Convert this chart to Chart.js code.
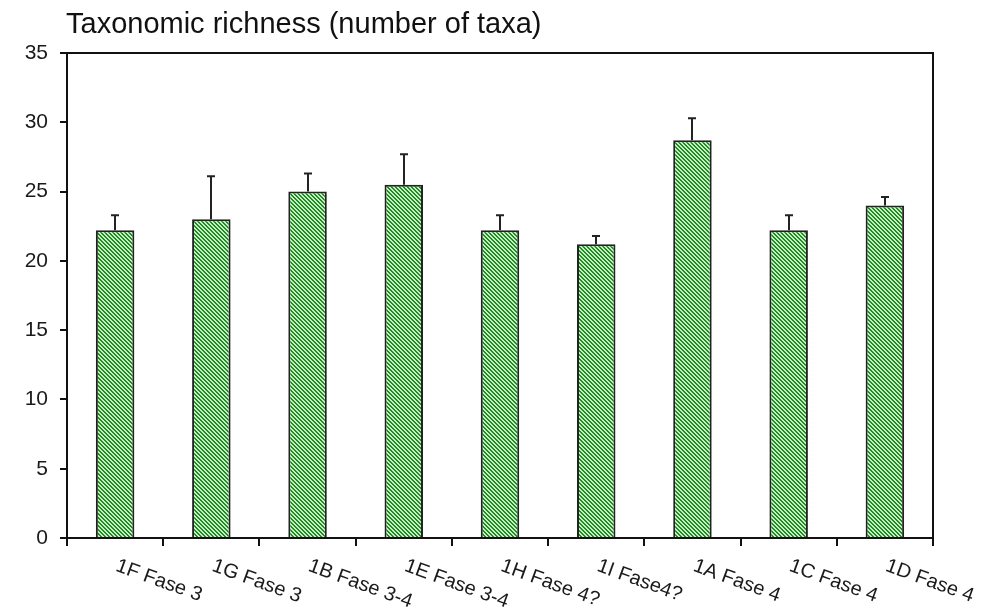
<!DOCTYPE html>
<html>
<head>
<meta charset="utf-8">
<script src="https://cdn.jsdelivr.net/npm/chart.js@4/dist/chart.umd.min.js"></script>
<style>
  html, body { margin: 0; padding: 0; background: #fff; }
  #wrap { width: 993px; height: 607px; position: relative; }
</style>
</head>
<body>
<div id="wrap"><canvas id="c" width="993" height="607"></canvas></div>
<script>
// Sampling sites and their phase
const categories = ['1F Fase 3', '1G Fase 3', '1B Fase 3-4', '1E Fase 3-4', '1H Fase 4?', '1I Fase4?', '1A Fase 4', '1C Fase 4', '1D Fase 4'];
// Mean number of taxa per site
const richness = [22.2, 23.0, 25.0, 25.5, 22.2, 21.2, 28.7, 22.2, 24.0];
// Upper error (standard deviation) per site
const richnessErr = [1.1, 3.1, 1.3, 2.2, 1.1, 0.6, 1.6, 1.1, 0.6];
// Y axis range
const yTicks = [0, 5, 10, 15, 20, 25, 30, 35];

const titleText = 'Taxonomic richness (number of taxa)';
const FONT = '"Liberation Sans", Arial, sans-serif';

// Diagonal green hatch fill for the bars
function makeHatch() {
  const size = 4;
  const pc = document.createElement('canvas');
  pc.width = size; pc.height = size;
  const pctx = pc.getContext('2d');
  const img = pctx.createImageData(size, size);
  for (let y = 0; y < size; y++) {
    for (let x = 0; x < size; x++) {
      const dark = (((x - y) % size) + size) % size < 2;
      const i = (y * size + x) * 4;
      if (dark) { img.data[i] = 30; img.data[i + 1] = 140; img.data[i + 2] = 30; }
      else { img.data[i] = 200; img.data[i + 1] = 238; img.data[i + 2] = 200; }
      img.data[i + 3] = 255;
    }
  }
  pctx.putImageData(img, 0, 0);
  return document.getElementById('c').getContext('2d').createPattern(pc, 'repeat');
}

const decorations = {
  id: 'decorations',
  afterDatasetsDraw(chart) {
    const ctx = chart.ctx;
    const yScale = chart.scales.y;
    const meta = chart.getDatasetMeta(0);
    ctx.save();
    ctx.strokeStyle = '#222';
    ctx.lineWidth = 2;
    meta.data.forEach((bar, i) => {
      const x = Math.round(bar.x);
      const yTop = yScale.getPixelForValue(richness[i] + richnessErr[i]);
      const yBar = yScale.getPixelForValue(richness[i]);
      ctx.beginPath();
      ctx.moveTo(x, yBar);
      ctx.lineTo(x, yTop);
      ctx.moveTo(x - 4, yTop);
      ctx.lineTo(x + 4, yTop);
      ctx.stroke();
    });
    ctx.restore();
  },
  afterDraw(chart) {
    const ctx = chart.ctx;
    const area = chart.chartArea;
    const xScale = chart.scales.x;
    ctx.save();
    // frame on top and right
    ctx.strokeStyle = '#111';
    ctx.lineWidth = 2;
    ctx.beginPath();
    ctx.moveTo(area.left, area.top);
    ctx.lineTo(area.right, area.top);
    ctx.lineTo(area.right, area.bottom);
    ctx.stroke();
    // title
    ctx.fillStyle = '#111';
    ctx.font = '29px ' + FONT;
    ctx.textAlign = 'left';
    ctx.textBaseline = 'alphabetic';
    ctx.fillText(titleText, 66, 33);
    // slanted category labels
    ctx.font = '20px ' + FONT;
    ctx.textBaseline = 'top';
    categories.forEach((label, i) => {
      const x = xScale.getPixelForValue(i);
      ctx.save();
      ctx.translate(x + 5, area.bottom + 18);
      ctx.rotate(20 * Math.PI / 180);
      ctx.fillStyle = '#1a1a1a';
      ctx.fillText(label, 0, 0);
      ctx.restore();
    });
    ctx.restore();
  }
};

new Chart(document.getElementById('c'), {
  type: 'bar',
  data: {
    labels: categories,
    datasets: [{
      data: richness,
      backgroundColor: makeHatch(),
      borderColor: '#222',
      borderWidth: 2,
      categoryPercentage: 1,
      barPercentage: 0.4
    }]
  },
  options: {
    responsive: false,
    animation: false,
    layout: { padding: { top: 53, right: 60, left: 0, bottom: 0 } },
    plugins: { legend: { display: false }, tooltip: { enabled: false }, title: { display: false } },
    scales: {
      x: {
        offset: true,
        grid: { display: true, offset: true, drawOnChartArea: false, drawTicks: true, tickLength: 8, color: '#111', lineWidth: 2 },
        border: { display: true, color: '#111', width: 2 },
        ticks: { display: false },
        afterFit(scale) { scale.height = 69; }
      },
      y: {
        min: yTicks[0],
        max: yTicks[yTicks.length - 1],
        afterBuildTicks(scale) { scale.ticks = yTicks.map(v => ({ value: v })); },
        grid: { display: true, drawOnChartArea: false, drawTicks: true, tickLength: 7, color: '#111', lineWidth: 2 },
        border: { display: true, color: '#111', width: 2 },
        ticks: { color: '#1a1a1a', font: { family: FONT, size: 21 }, padding: 12 },
        afterFit(scale) { scale.width = 67; }
      }
    }
  },
  plugins: [decorations]
});
</script>
</body>
</html>
